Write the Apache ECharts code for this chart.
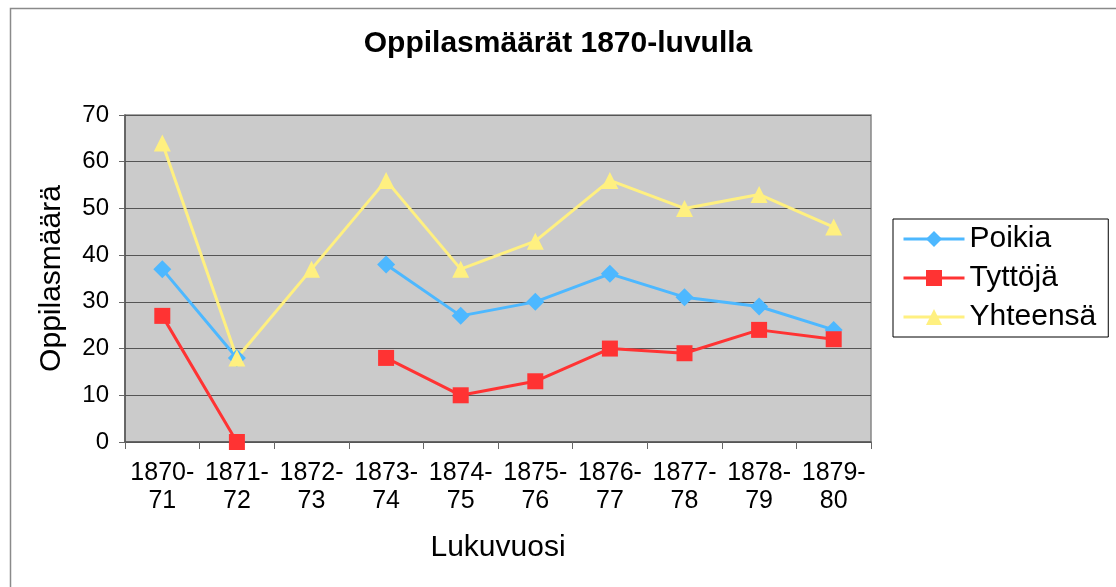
<!DOCTYPE html>
<html>
<head>
<meta charset="utf-8">
<script src="https://cdn.jsdelivr.net/npm/echarts@6/dist/echarts.min.js"></script>
<style>html,body{margin:0;padding:0;background:#fff;}#c{width:1116px;height:587px;}</style>
</head>
<body>
<div id="c"></div>
<script>
const categories = ['1870-\n71','1871-\n72','1872-\n73','1873-\n74','1874-\n75','1875-\n76','1876-\n77','1877-\n78','1878-\n79','1879-\n80'];
const poikia   = [37, 18, null, 38, 27, 30, 36, 31, 29, 24];
const tyttoja  = [27, 0, null, 18, 10, 13, 20, 19, 24, 22];
const yhteensa = [64, 18, 37, 56, 37, 43, 56, 50, 53, 46];
const seriesNames = ['Poikia', 'Tyttöjä', 'Yhteensä'];

const FONT = '"Liberation Sans", Arial, sans-serif';
const chart = echarts.init(document.getElementById('c'), null, {renderer: 'canvas'});
chart.setOption({
  animation: false,
  backgroundColor: '#ffffff',
  graphic: [{
    type: 'rect', left: 8, top: 6, z: -10, silent: true,
    shape: {width: 1200, height: 700},
    style: {fill: 'none', stroke: '#8a8a8a', lineWidth: 1.5}
  }],
  title: {
    text: 'Oppilasmäärät 1870-luvulla',
    left: 'center', top: 24,
    textStyle: {fontFamily: FONT, fontSize: 30, fontWeight: 'bold', color: '#000'}
  },
  legend: {
    orient: 'vertical',
    left: 893, top: 219,
    padding: [5, 12, 5, 9],
    itemGap: 9,
    itemWidth: 61, itemHeight: 20,
    borderColor: '#000', borderWidth: 1,
    lineStyle: {width: 3},
    textStyle: {fontFamily: FONT, fontSize: 30, lineHeight: 30, color: '#000', padding: [0, 0, 0, 0]},
    data: seriesNames
  },
  grid: {left: 125, right: 245, top: 115, bottom: 145, show: true, backgroundColor: '#cbcbcb', borderColor: '#888', borderWidth: 1.5},
  xAxis: {
    type: 'category', data: categories, boundaryGap: true,
    name: 'Lukuvuosi', nameLocation: 'middle', nameGap: 91,
    nameTextStyle: {fontFamily: FONT, fontSize: 30, color: '#000'},
    axisLine: {lineStyle: {color: '#555', width: 1.5}},
    axisTick: {show: true, length: 7, lineStyle: {color: '#666'}},
    axisLabel: {fontFamily: FONT, fontSize: 25, color: '#000', lineHeight: 28, margin: 17, interval: 0}
  },
  yAxis: {
    type: 'value', min: 0, max: 70, interval: 10,
    name: 'Oppilasmäärä', nameLocation: 'middle', nameGap: 58, nameRotate: 90,
    nameTextStyle: {fontFamily: FONT, fontSize: 30, color: '#000'},
    axisLine: {show: true, lineStyle: {color: '#555', width: 1.5}},
    axisTick: {show: true, length: 6, lineStyle: {color: '#666'}},
    axisLabel: {fontFamily: FONT, fontSize: 24, color: '#000', margin: 16},
    splitLine: {lineStyle: {color: '#555', width: 1.2}}
  },
  series: [
    {name: seriesNames[0], type: 'line', data: poikia, connectNulls: false,
     symbol: 'diamond', symbolSize: 18, showAllSymbol: true,
     itemStyle: {color: '#4db8ff'}, lineStyle: {color: '#4db8ff', width: 3}},
    {name: seriesNames[1], type: 'line', data: tyttoja, connectNulls: false,
     symbol: 'rect', symbolSize: 16, showAllSymbol: true,
     itemStyle: {color: '#ff3333'}, lineStyle: {color: '#ff3333', width: 3}},
    {name: seriesNames[2], type: 'line', data: yhteensa, connectNulls: false,
     symbol: 'triangle', symbolSize: 17, showAllSymbol: true,
     itemStyle: {color: '#fff080'}, lineStyle: {color: '#fff080', width: 3}}
  ]
});
</script>
</body>
</html>
